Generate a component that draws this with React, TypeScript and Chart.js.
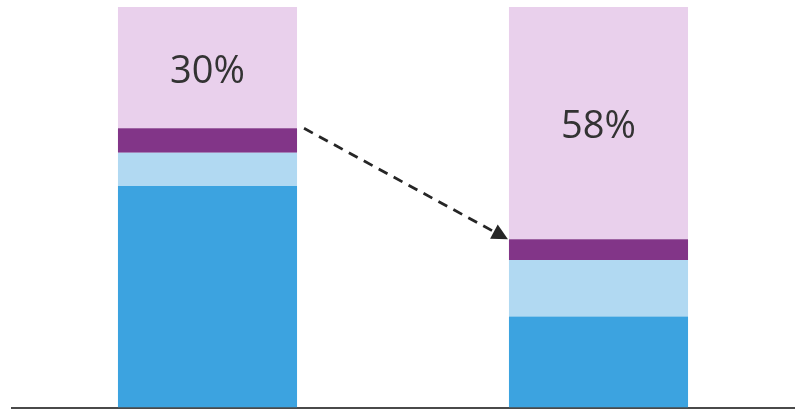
import React, { useEffect, useRef } from "react";
import { Chart, registerables } from "chart.js";

Chart.register(...registerables);

const categories = ["Before", "After"];
const seriesNames = ["Segment A", "Segment B", "Segment C", "Segment D"];
const segmentA = [55.3, 22.7];
const segmentB = [8.3, 14.1];
const segmentC = [6.1, 5.2];
const segmentD = [30.3, 58.0];
const colors = ["#3CA3E0", "#B1D9F2", "#823588", "#E9D0EC"];

const labelPlugin = {
  id: "segLabels",
  afterDatasetsDraw(chart: any) {
    const ctx = chart.ctx;
    const meta = chart.getDatasetMeta(3);
    ctx.save();
    ctx.fillStyle = "#333333";
    ctx.font = "38px 'Open Sans', sans-serif";
    ctx.textAlign = "center";
    ctx.textBaseline = "alphabetic";
    meta.data.forEach((el: any, i: number) => {
      const v = chart.data.datasets[3].data[i];
      ctx.fillText(Math.round(v) + "%", el.x, (el.y + el.base) / 2 + 15);
    });
    ctx.restore();
  },
};

const arrowPlugin = {
  id: "arrow",
  afterDatasetsDraw(chart: any) {
    const ctx = chart.ctx;
    const m = chart.getDatasetMeta(2);
    const a = m.data[0];
    const b = m.data[1];
    const x1 = a.x + a.width / 2 + 7;
    const y1 = a.y;
    const x2 = b.x - b.width / 2 - 1;
    const y2 = b.y;
    const ang = Math.atan2(y2 - y1, x2 - x1);
    const headLen = 16;
    const headW = 8;
    const bx = x2 - headLen * Math.cos(ang);
    const by = y2 - headLen * Math.sin(ang);
    ctx.save();
    ctx.strokeStyle = "#262626";
    ctx.lineWidth = 2.8;
    ctx.setLineDash([10, 7]);
    ctx.beginPath();
    ctx.moveTo(x1, y1);
    ctx.lineTo(bx, by);
    ctx.stroke();
    ctx.setLineDash([]);
    ctx.fillStyle = "#262626";
    ctx.beginPath();
    ctx.moveTo(x2, y2);
    ctx.lineTo(bx + headW * Math.sin(ang), by - headW * Math.cos(ang));
    ctx.lineTo(bx - headW * Math.sin(ang), by + headW * Math.cos(ang));
    ctx.closePath();
    ctx.fill();
    ctx.restore();
  },
};

export default function App() {
  const ref = useRef<HTMLCanvasElement>(null);
  useEffect(() => {
    if (!ref.current) return;
    const values = [segmentA, segmentB, segmentC, segmentD];
    const chart = new Chart(ref.current, {
      type: "bar",
      data: {
        labels: categories,
        datasets: values.map((d, i) => ({
          label: seriesNames[i],
          data: d,
          backgroundColor: colors[i],
          borderWidth: 0,
          categoryPercentage: 1,
          barPercentage: 0.458,
        })),
      },
      options: {
        animation: false,
        responsive: true,
        maintainAspectRatio: false,
        layout: { padding: { left: 12, right: 4, top: 7, bottom: 3.5 } },
        plugins: { legend: { display: false }, tooltip: { enabled: false } },
        scales: {
          x: {
            stacked: true,
            ticks: { display: false },
            grid: { display: false, drawTicks: false },
            border: { display: true, color: "#4a4a4a", width: 2 },
          },
          y: {
            stacked: true,
            display: false,
            min: 0,
            max: 100,
          },
        },
      },
      plugins: [labelPlugin, arrowPlugin],
    });
    return () => chart.destroy();
  }, []);
  return (
    <div style={{ position: "absolute", left: 0, top: 0, width: 798, height: 411, background: "#fff" }}>
      <canvas ref={ref} />
    </div>
  );
}
